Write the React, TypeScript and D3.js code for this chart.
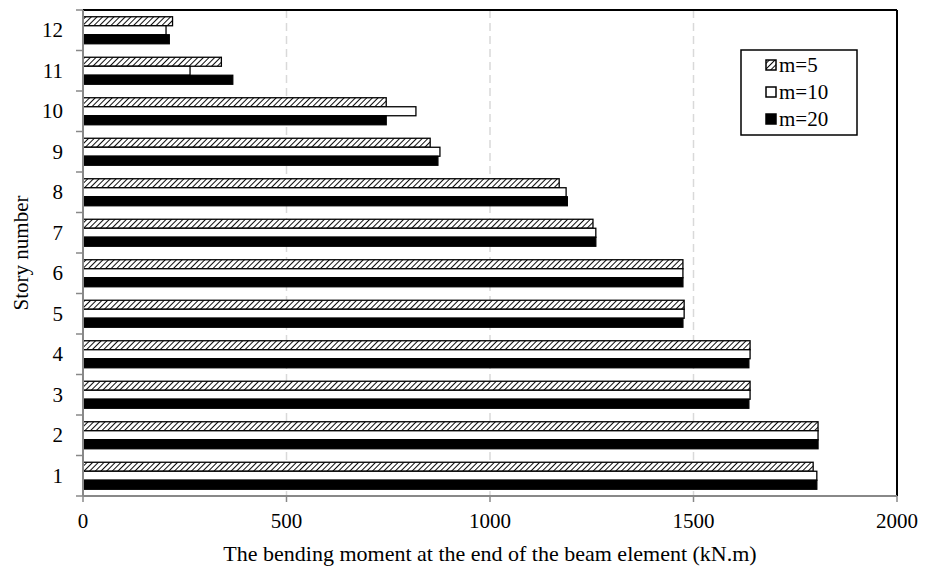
import React from "react";
import * as d3 from "d3";

const stories = ["1", "2", "3", "4", "5", "6", "7", "8", "9", "10", "11", "12"];
const seriesNames = ["m=5", "m=10", "m=20"];
const m5 = [1794, 1806, 1639, 1639, 1477, 1474, 1253, 1170, 853, 745, 340, 220];
const m10 = [1803, 1806, 1639, 1639, 1477, 1474, 1260, 1187, 877, 818, 263, 204];
const m20 = [1803, 1806, 1636, 1636, 1474, 1474, 1260, 1190, 872, 745, 368, 212];
const xTicks = [0, 500, 1000, 1500, 2000];

const W = 933;
const H = 567;
const margin = { left: 83, right: 36, top: 10, bottom: 71 };
const FONT = "'Liberation Serif', 'Times New Roman', serif";

export default function App() {
  const x = d3.scaleLinear().domain([0, 2000]).range([margin.left, W - margin.right]);
  const y = d3
    .scaleBand<string>()
    .domain([...stories].reverse())
    .range([margin.top, H - margin.bottom]);
  const inner = d3.scaleBand<string>().domain(seriesNames).range([0, y.bandwidth()]).paddingInner(0).paddingOuter(0.75);
  const data = [m5, m10, m20];
  const fills = ["url(#hatch)", "#fff", "#000"];
  const x0 = x(0);
  const yTop = margin.top;
  const yBot = H - margin.bottom;
  const bh = inner.bandwidth();

  const boundaries = [...y.domain().map((s) => y(s) as number), yBot];

  return (
    <svg width={W} height={H} style={{ position: "absolute", left: 0, top: 0, background: "#fff" }}>
      <defs>
        <pattern id="hatch" width="4" height="4" patternUnits="userSpaceOnUse" patternTransform="rotate(45)">
          <rect width="4" height="4" fill="#fff" />
          <line x1="0" y1="0" x2="0" y2="4" stroke="#000" strokeWidth="1.9" />
        </pattern>
      </defs>
      {/* gridlines */}
      {xTicks.slice(1, -1).map((t) => (
        <line key={t} x1={x(t)} x2={x(t)} y1={yTop} y2={yBot} stroke="#d9d9d9" strokeWidth={1.5} strokeDasharray="8,5" />
      ))}
      {/* frame */}
      <line x1={x0} x2={x(2000)} y1={yTop} y2={yTop} stroke="#000" strokeWidth={2} />
      <line x1={x(2000)} x2={x(2000)} y1={yTop} y2={yBot} stroke="#000" strokeWidth={2} />
      {/* bars */}
      {stories.map((s, i) =>
        seriesNames.map((name, k) => (
          <rect
            key={s + name}
            x={x0}
            y={(y(s) as number) + (inner(name) as number)}
            width={x(data[k][i]) - x0}
            height={bh}
            fill={fills[k]}
            stroke="#000"
            strokeWidth={1.3}
          />
        ))
      )}
      {/* axes */}
      <line x1={x0} x2={x(2000)} y1={yBot} y2={yBot} stroke="#888" strokeWidth={2} />
      <line x1={x0} x2={x0} y1={yTop} y2={yBot} stroke="#888" strokeWidth={2} />
      {boundaries.map((b, i) => (
        <line key={"yt" + i} x1={x0 - 7} x2={x0} y1={b} y2={b} stroke="#888" strokeWidth={1.5} />
      ))}
      {xTicks.map((t) => (
        <line key={"xt" + t} x1={x(t)} x2={x(t)} y1={yBot} y2={yBot + 6} stroke="#888" strokeWidth={1.5} />
      ))}
      {/* tick labels */}
      {stories.map((s) => (
        <text
          key={"yl" + s}
          x={x0 - 20}
          y={(y(s) as number) + y.bandwidth() / 2 + 7}
          textAnchor="end"
          fontFamily={FONT}
          fontSize={21}
        >
          {s}
        </text>
      ))}
      {xTicks.map((t) => (
        <text key={"xl" + t} x={x(t)} y={528} textAnchor="middle" fontFamily={FONT} fontSize={21}>
          {t}
        </text>
      ))}
      {/* titles */}
      <text x={(x0 + x(2000)) / 2} y={561} textAnchor="middle" fontFamily={FONT} fontSize={22}>
        The bending moment at the end of the beam element (kN.m)
      </text>
      <text
        transform={`translate(28, ${(yTop + yBot) / 2}) rotate(-90)`}
        textAnchor="middle"
        fontFamily={FONT}
        fontSize={21}
      >
        Story number
      </text>
      {/* legend */}
      <g>
        <rect x={741} y={50} width={116} height={85} fill="#fff" stroke="#000" strokeWidth={1.5} />
        {seriesNames.map((name, k) => (
          <g key={"lg" + name} transform={`translate(0, ${65 + k * 27})`}>
            <rect x={766} y={-5} width={10} height={10} fill={fills[k]} stroke="#000" strokeWidth={1.5} />
            <text x={779} y={7} fontFamily={FONT} fontSize={21}>
              {name}
            </text>
          </g>
        ))}
      </g>
    </svg>
  );
}
